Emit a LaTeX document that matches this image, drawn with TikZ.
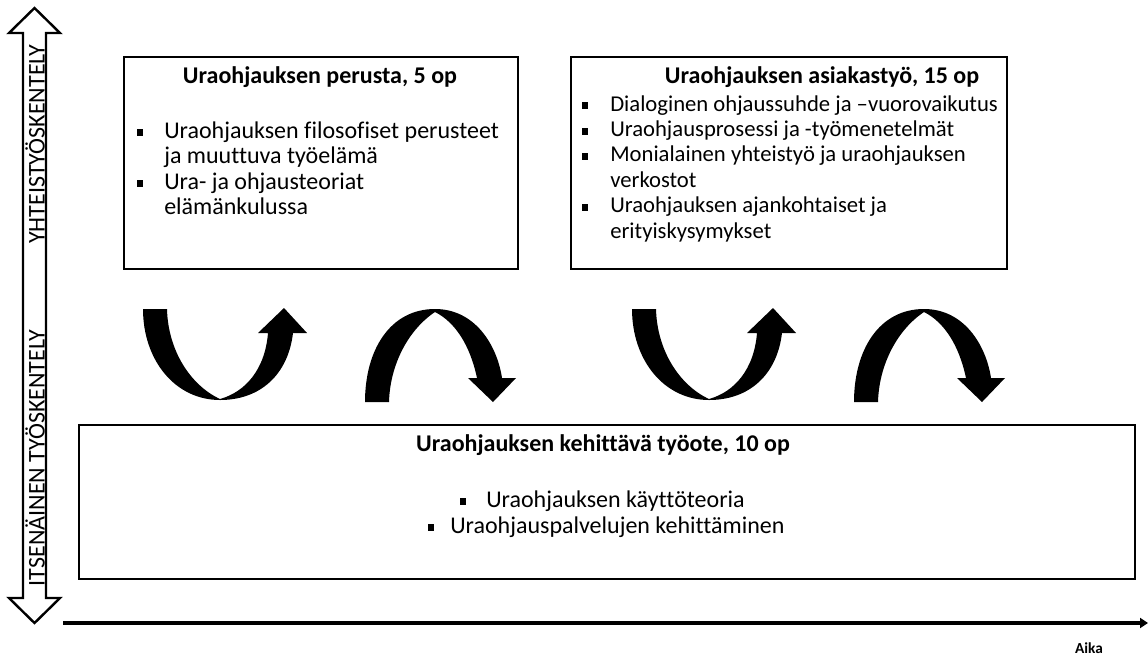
\documentclass[tikz,border=0pt]{standalone}
\usepackage{fontspec}
\setmainfont[Ligatures=NoCommon]{Carlito}
\usetikzlibrary{arrows.meta}
\begin{document}
\begin{tikzpicture}[x=0.75pt,y=-0.75pt,
  box/.style={draw, line width=1.5pt, anchor=north west, inner sep=0pt},
  ttl/.style={anchor=base, inner sep=0pt, font=\fontsize{18}{20}\bfseries\selectfont},
  txt/.style={anchor=base west, inner sep=0pt, font=\fontsize{18}{20}\selectfont},
  txtb/.style={txt, font=\fontsize{17}{19}\selectfont},
  bul/.style={fill=black, inner sep=0pt, minimum size=5pt},
  vtxt/.style={rotate=90, inner sep=0pt, font=\fontsize{18}{20}\selectfont},
  curv/.style={fill=black}
]
\useasboundingbox (0,0) rectangle (1148,658);

% vertical double arrow
\fill[white] (34.5,8) -- (9,33) -- (23,33) -- (23,598) -- (9,598) -- (34.5,623) -- (60,598) -- (46,598) -- (46,33) -- (60,33) -- cycle;
\node[vtxt] (yt) at (35,144) {YHTEISTYÖSKENTELY};
\node[vtxt] (it) at (35,458) {ITSENÄINEN TYÖSKENTELY};
\draw[line width=1.8pt, line join=miter] (34.5,8) -- (9,33) -- (23,33) -- (23,598) -- (9,598) -- (34.5,623) -- (60,598) -- (46,598) -- (46,33) -- (60,33) -- cycle;

% time axis
\coordinate (ax0) at (63,623);
\coordinate (ax1) at (1148,623);
\draw[line width=2.4pt, -{Triangle[length=6pt,width=7.5pt]}] (ax0) -- (ax1);
\node[anchor=base, inner sep=0pt, font=\fontsize{11.5}{13}\bfseries\selectfont] (aika) at (1089,653) {Aika};

% boxes
\node[box, minimum width=295.5pt, minimum height=159pt] (b1) at (123,56) {};
\node[box, minimum width=327pt, minimum height=159pt] (b2) at (570,56) {};
\node[box, minimum width=792pt, minimum height=115.5pt] (b3) at (78,424) {};

% box 1
\node[ttl] (t1) at (320,83) {Uraohjauksen perusta, 5 op};
\node[bul] (p1a) at (140,132.5) {};
\node[txt] (l1a) at (164,138) {Uraohjauksen filosofiset perusteet};
\node[txt] (l1b) at (164,163.5) {ja muuttuva työelämä};
\node[bul] (p1b) at (140,183.5) {};
\node[txt] (l1c) at (164,189) {Ura- ja ohjausteoriat};
\node[txt] (l1d) at (164,214.5) {elämänkulussa};

% box 2
\node[ttl] (t2) at (822,83) {Uraohjauksen asiakastyö, 15 op};
\node[bul] (p2a) at (585,105.8) {};
\node[txtb] (l2a) at (610,111) {Dialoginen ohjaussuhde ja –vuorovaikutus};
\node[bul] (p2b) at (585,131.2) {};
\node[txtb] (l2b) at (610,136.4) {Uraohjausprosessi ja -työmenetelmät};
\node[bul] (p2c) at (585,156.6) {};
\node[txtb] (l2c) at (610,161.8) {Monialainen yhteistyö ja uraohjauksen};
\node[txtb] (l2d) at (610,187.2) {verkostot};
\node[bul] (p2d) at (585,207.4) {};
\node[txtb] (l2e) at (610,212.6) {Uraohjauksen ajankohtaiset ja};
\node[txtb] (l2f) at (610,238) {erityiskysymykset};

% box 3
\node[ttl] (t3) at (603,451) {Uraohjauksen kehittävä työote, 10 op};
\node[bul] (p3a) at (463,501.5) {};
\node[txt] (l3a) at (486,507) {Uraohjauksen käyttöteoria};
\node[bul] (p3b) at (431,527.5) {};
\node[txt] (l3b) at (450,533) {Uraohjauspalvelujen kehittäminen};

% curved arrows
\foreach \dx in {0,489} {
\begin{scope}[shift={(\dx,0)}]
\fill[curv] (143,309) .. controls (143,360) and (175,400) .. (220,400)
  .. controls (260,400) and (288,375) .. (293,333) -- (307,333) -- (284,308) -- (258,333) -- (268,333)
  .. controls (265,370) and (245,392) .. (220,399)
  .. controls (190,385) and (168,350) .. (167,309) -- cycle;
\fill[curv] (365,402) .. controls (365,350) and (390,309) .. (435,309)
  .. controls (475,309) and (497,345) .. (502,378) -- (516,378) -- (493,402) -- (468,378) -- (477,378)
  .. controls (470,345) and (455,322) .. (435,312)
  .. controls (408,330) and (390,365) .. (389,402) -- cycle;
\end{scope}
}
\end{tikzpicture}
\end{document}
